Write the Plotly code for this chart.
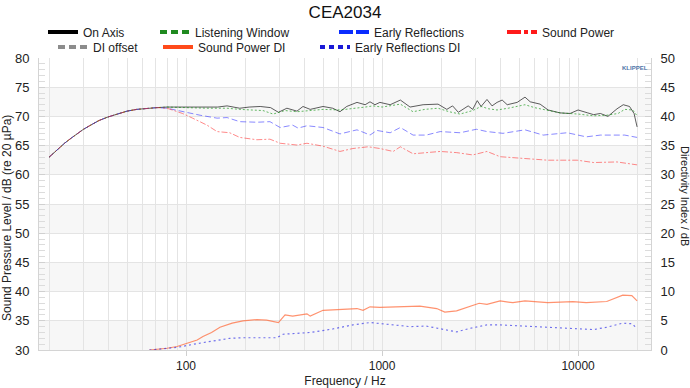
import plotly.graph_objects as go

# ---------------- data ----------------
on_axis_f = [20, 22, 24, 26, 28, 30, 33, 36, 40, 45, 50, 56, 63, 71, 80, 90, 100, 115, 128, 145, 162, 188, 210, 239,
             270, 296, 327, 368, 395, 430, 500, 560, 610, 660, 745, 820, 868, 920, 975, 1100, 1240, 1390, 1620, 1930,
             2140, 2290, 2450, 2750, 2900, 3060, 3200, 3430, 3640, 3860, 4100, 4350, 4890, 5360, 5700, 6400, 7030,
             8090, 9100, 10000, 11200, 12000, 13000, 14200, 15800, 17000, 18300, 19300, 20000]
on_axis_db = [63.0, 64.3, 65.4, 66.3, 67.1, 67.8, 68.6, 69.3, 69.9, 70.5, 70.9, 71.2, 71.4, 71.5, 71.6, 71.6, 71.6,
              71.5, 71.5, 71.6, 71.8, 71.4, 71.6, 71.7, 71.5, 70.7, 71.4, 70.9, 71.7, 71.2, 71.7, 71.4, 70.8, 71.7,
              72.4, 72.0, 72.5, 72.0, 72.4, 72.0, 72.8, 71.6, 72.0, 72.1, 71.2, 71.8, 70.7, 71.8, 71.2, 72.7, 71.7,
              72.9, 71.8, 72.4, 72.8, 72.0, 72.4, 73.3, 72.5, 72.1, 71.1, 70.6, 70.5, 71.1, 70.6, 70.3, 70.5, 70.0,
              71.3, 72.0, 71.7, 70.5, 68.2]

listening_f = [20, 22, 24, 26, 28, 30, 33, 36, 40, 45, 50, 56, 63, 71, 80, 90, 100, 128, 162, 188, 247, 278, 320,
               368, 430, 500, 610, 700, 820, 900, 1000, 1240, 1440, 1650, 1930, 2200, 2500, 2900, 3200, 3500, 3860,
               4400, 5360, 6000, 7000, 8090, 10000, 12000, 14000, 16000, 17300, 19000, 20000]
listening_db = [63.0, 64.3, 65.4, 66.3, 67.1, 67.8, 68.6, 69.3, 69.9, 70.5, 70.9, 71.2, 71.4, 71.5, 71.6, 71.6,
                71.5, 71.4, 71.4, 71.2, 71.0, 70.4, 71.0, 70.8, 71.0, 71.2, 71.1, 71.3, 71.6, 71.8, 71.6, 72.1, 70.8,
                71.2, 71.4, 70.8, 70.4, 71.0, 71.7, 71.3, 71.1, 71.4, 72.0, 71.5, 71.1, 70.6, 70.4, 70.1, 70.2, 70.5,
                71.2, 71.1, 70.1]

early_f = [20, 22, 24, 26, 28, 30, 33, 36, 40, 45, 50, 56, 63, 71, 80, 96, 118, 144, 162, 188, 230, 268, 302, 350,
           373, 414, 500, 610, 745, 800, 868, 940, 1100, 1240, 1440, 1680, 1980, 2500, 3030, 3430, 4140, 5360, 6640,
           8800, 11000, 13000, 17300, 20000]
early_db = [63.0, 64.3, 65.4, 66.3, 67.1, 67.8, 68.6, 69.3, 69.9, 70.5, 70.9, 71.2, 71.4, 71.5, 71.4, 70.8, 70.2,
            69.7, 69.8, 69.1, 69.0, 69.1, 68.1, 68.5, 68.0, 68.4, 68.1, 67.0, 67.7, 67.3, 66.8, 67.6, 67.2, 68.1,
            66.8, 66.8, 67.4, 67.2, 67.8, 67.4, 67.1, 67.7, 66.8, 67.2, 66.5, 66.8, 66.8, 66.4]

power_f = [20, 22, 24, 26, 28, 30, 33, 36, 40, 45, 50, 56, 63, 71, 80, 86, 96, 108, 128, 144, 167, 188, 230, 268,
           302, 368, 414, 500, 610, 710, 850, 975, 1140, 1240, 1440, 1980, 2400, 2900, 3430, 4000, 5500, 7000, 9900,
           12000, 15800, 20000]
power_db = [63.0, 64.3, 65.4, 66.3, 67.1, 67.8, 68.6, 69.3, 69.9, 70.5, 70.9, 71.2, 71.4, 71.5, 71.4, 71.0, 70.5,
            69.7, 68.5, 67.4, 67.2, 66.4, 66.0, 66.1, 65.4, 65.1, 65.4, 64.9, 64.0, 64.5, 64.8, 64.5, 64.0, 64.8,
            63.6, 64.0, 63.8, 63.4, 64.0, 63.1, 62.8, 62.5, 62.5, 62.1, 62.2, 61.7]

spdi_f = [65, 72, 80, 90, 101, 114, 122, 135, 149, 172, 195, 230, 258, 296, 320, 350, 414, 430, 500, 610, 745, 800,
          868, 975, 1140, 1240, 1560, 1900, 2090, 2400, 2800, 3130, 3430, 4000, 4650, 5360, 7000, 9400, 11000,
          14000, 16900, 18800, 20000]
spdi_db = [0.0, 0.1, 0.3, 0.6, 1.1, 1.7, 2.3, 3.0, 3.9, 4.6, 5.0, 5.2, 5.1, 4.7, 6.0, 5.8, 6.2, 5.8, 6.8, 6.9, 7.1,
           6.8, 7.4, 7.3, 7.4, 7.4, 7.5, 7.1, 6.5, 6.7, 7.5, 8.0, 7.8, 8.4, 8.1, 8.4, 8.1, 8.3, 8.1, 8.3, 9.4, 9.3,
           8.4]

erdi_f = [65, 80, 90, 114, 149, 167, 195, 290, 313, 430, 560, 710, 868, 1060, 1240, 1390, 1680, 2040, 2400, 2800,
          3430, 4000, 5250, 7000, 10200, 12000, 14000, 16900, 18800, 20000]
erdi_db = [0.0, 0.3, 0.45, 1.1, 1.7, 2.0, 2.1, 2.1, 2.7, 3.0, 3.6, 4.3, 4.7, 4.4, 4.1, 4.0, 4.1, 3.5, 3.1, 3.7, 4.3,
           4.3, 4.1, 3.9, 3.7, 3.5, 3.9, 4.6, 4.5, 3.7]

for a, b in [(on_axis_f, on_axis_db), (listening_f, listening_db), (early_f, early_db), (power_f, power_db),
             (spdi_f, spdi_db), (erdi_f, erdi_db)]:
    assert len(a) == len(b), (len(a), len(b))

legend_names = ["On Axis", "Listening Window", "Early Reflections", "Sound Power",
                "DI offset", "Sound Power DI", "Early Reflections DI"]
x_major = [100, 1000, 10000]
x_minor = [20, 30, 40, 50, 60, 70, 80, 90, 200, 300, 400, 500, 600, 700, 800, 900,
           2000, 3000, 4000, 5000, 6000, 7000, 8000, 9000, 20000]
band_lows = [30, 40, 50, 60, 70]

# ---------------- layout / style settings ----------------
FONT = "Liberation Sans, Arial, sans-serif"
W, H = 690, 388
ML, MR, MT, MB = 39, 39, 58, 38
PW = W - ML - MR
PH = H - MT - MB
# legend text start (px from left) and row centre (px from top) for each entry
leg_text_x = [85, 197, 376, 544, 95, 200, 357]
leg_row_y = [32, 32, 32, 32, 47, 47, 47]
LEG_TEXT_OFFSET = 42

fig = go.Figure()

for lo in band_lows:
    fig.add_shape(type="rect", xref="paper", yref="y", x0=0, x1=1, y0=lo, y1=lo + 5,
                  fillcolor="#f7f7f7", line_width=0, layer="below")

fig.add_trace(go.Scatter(x=on_axis_f, y=on_axis_db, mode="lines", showlegend=False,
                         line=dict(color="rgba(40,40,40,0.75)", width=1)))
fig.add_trace(go.Scatter(x=listening_f, y=listening_db, mode="lines", showlegend=False,
                         line=dict(color="rgba(0,140,0,0.6)", width=1, dash="2px,2px")))
fig.add_trace(go.Scatter(x=early_f, y=early_db, mode="lines", showlegend=False,
                         line=dict(color="rgba(40,40,255,0.55)", width=1, dash="6px,3px")))
fig.add_trace(go.Scatter(x=power_f, y=power_db, mode="lines", showlegend=False,
                         line=dict(color="rgba(255,40,40,0.55)", width=1, dash="6px,2px,2px,2px")))
fig.add_trace(go.Scatter(x=spdi_f, y=spdi_db, mode="lines", showlegend=False, yaxis="y2",
                         line=dict(color="rgba(255,100,50,0.7)", width=1.2)))
fig.add_trace(go.Scatter(x=erdi_f, y=erdi_db, mode="lines", showlegend=False, yaxis="y2",
                         line=dict(color="rgba(40,40,230,0.65)", width=1.2, dash="2px,3px")))

leg_styles = [
    dict(color="#000000", dash="solid"),
    dict(color="#1f8a1f", dash="7px,4px"),
    dict(color="#0a2cff", dash="14px,3px"),
    dict(color="#ff1a1a", dash="14px,3px,4px,3px"),
    dict(color="#8c8c8c", dash="7px,4px"),
    dict(color="#ff4a1a", dash="solid"),
    dict(color="#1a1ad6", dash="5px,4px"),
]
legend_layouts = {}
for i, (name, st) in enumerate(zip(legend_names, leg_styles)):
    key = "legend" if i == 0 else f"legend{i + 1}"
    fig.add_trace(go.Scatter(x=[None], y=[None], mode="lines", name=name, legend=key, showlegend=True,
                             line=dict(color=st["color"], dash=st["dash"], width=4)))
    legend_layouts[key] = dict(
        x=(leg_text_x[i] - LEG_TEXT_OFFSET - ML) / PW, xanchor="left",
        y=(H - MB - leg_row_y[i]) / PH, yanchor="middle",
        font=dict(size=12, color="#222222"), bgcolor="rgba(0,0,0,0)", orientation="h")

fig.update_layout(
    width=W, height=H,
    margin=dict(l=ML, r=MR, t=MT, b=MB, autoexpand=False),
    paper_bgcolor="white", plot_bgcolor="white",
    font=dict(family=FONT, size=12, color="#222222"),
    title=dict(text="CEA2034", x=0.5, xanchor="center", y=0.97, yanchor="middle",
               font=dict(size=17, color="#111111")),
    xaxis=dict(type="log", range=[1.25, 4.372], automargin=False,
               tickmode="array", tickvals=x_major, ticktext=[str(v) for v in x_major],
               ticks="outside", ticklen=5, tickcolor="#cfcfcf",
               showgrid=True, gridcolor="#e4e4e4", gridwidth=1,
               minor=dict(tickmode="array", tickvals=x_minor, showgrid=True, gridcolor="#e4e4e4", ticks=""),
               showline=True, linecolor="#d4d4d4", linewidth=1, zeroline=False,
               tickfont=dict(size=12, color="#222222"),
               title=dict(text="Frequency / Hz", font=dict(size=12, color="#222222"), standoff=4)),
    yaxis=dict(range=[30, 80], dtick=5, ticks="inside", ticklen=6, tickcolor="#d0d0d0", automargin=False,
               minor=dict(dtick=1, ticks="inside", ticklen=6, tickcolor="#dcdcdc", showgrid=False),
               showgrid=True, gridcolor="#e4e4e4", zeroline=False, ticklabelstandoff=6,
               showline=True, linecolor="#d4d4d4", linewidth=1,
               tickfont=dict(size=13, color="#222222")),
    yaxis2=dict(range=[0, 50], dtick=5, overlaying="y", side="right", anchor="x", automargin=False,
                ticks="inside", ticklen=6, tickcolor="#d0d0d0", ticklabelstandoff=6,
                minor=dict(dtick=1, ticks="inside", ticklen=6, tickcolor="#dcdcdc", showgrid=False),
                showgrid=False, zeroline=False, showline=True, linecolor="#d4d4d4", linewidth=1,
                tickfont=dict(size=13, color="#222222")),
    **legend_layouts,
)

fig.add_annotation(text="Sound Pressure Level / dB (re 20 µPa)", xref="paper", yref="paper",
                   x=0.0, y=(H - MB - 218) / PH, xanchor="center", yanchor="middle", xshift=-32,
                   textangle=-90, showarrow=False, font=dict(size=12, color="#222222"))
fig.add_annotation(text="Directivity Index / dB", xref="paper", yref="paper", x=1.0,
                   y=(H - MB - 196) / PH, xanchor="center", yanchor="middle", xshift=34, textangle=90,
                   showarrow=False, font=dict(size=11, color="#222222"))
fig.add_annotation(text="<b>KLIPPEL</b>", xref="paper", yref="paper", x=1.0, y=(H - MB - 68) / PH,
                   xanchor="center", yanchor="middle", xshift=-16, showarrow=False,
                   font=dict(size=6, color="#4f74a8"))

fig.write_html("out.html", config={"displayModeBar": False},
               post_script="document.body.style.margin='0px';")
